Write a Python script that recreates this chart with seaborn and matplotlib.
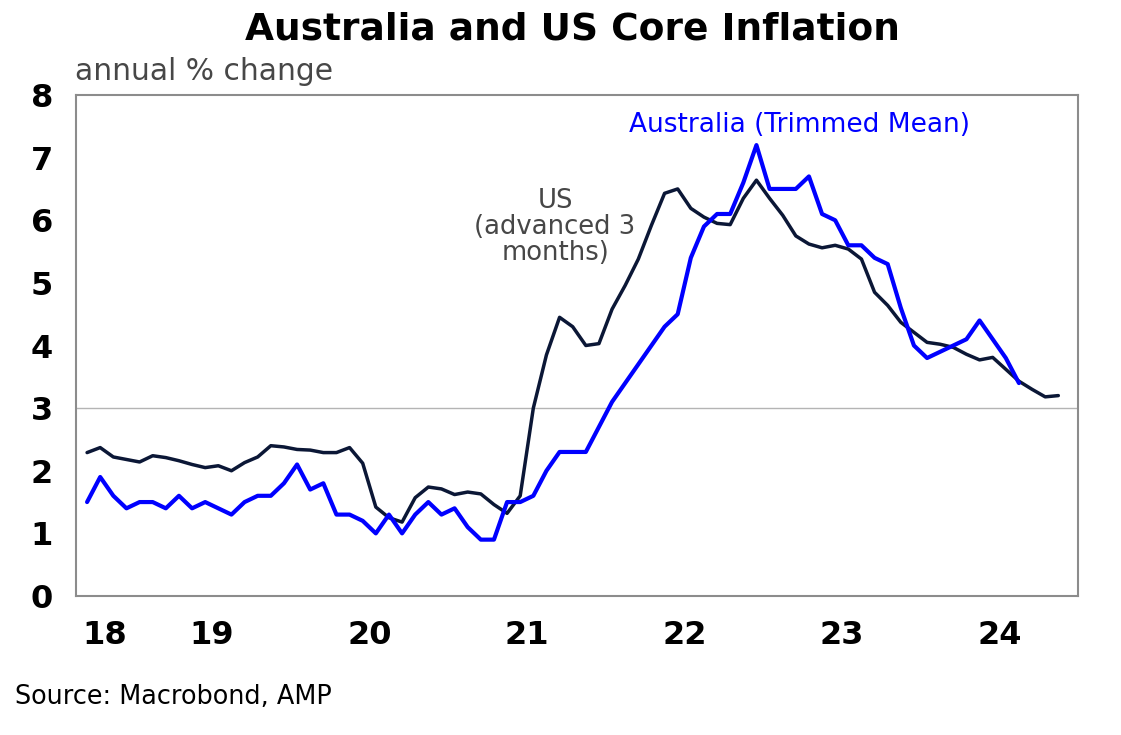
import numpy as np
import pandas as pd
import matplotlib
matplotlib.use("Agg")
import matplotlib.pyplot as plt
import seaborn as sns

# ======================================================
# DATA  (monthly, first observation Sep 2018)
# ======================================================

START_MONTH = "2018-09-01"

us_core = [
    2.29, 2.37, 2.22, 2.18, 2.14, 2.24, 2.21, 2.16, 2.10, 2.05, 2.08, 2.00,
    2.13, 2.22, 2.40, 2.38, 2.34, 2.33, 2.29, 2.29, 2.37,
    2.12, 1.42, 1.25, 1.18, 1.57, 1.74, 1.71, 1.62, 1.66, 1.63, 1.46, 1.32,
    1.60, 3.00, 3.85, 4.45, 4.30, 4.00, 4.03, 4.58, 4.96, 5.38, 5.92, 6.43, 6.50,
    6.19, 6.05, 5.95, 5.93, 6.35, 6.64, 6.35, 6.08, 5.75, 5.62, 5.56, 5.60, 5.54, 5.38,
    4.85, 4.64, 4.37, 4.21, 4.05, 4.02, 3.97, 3.86, 3.77, 3.81, 3.62, 3.43, 3.30, 3.18, 3.20,
]

aus_trimmed = [
    1.5, 1.9, 1.6, 1.4, 1.5, 1.5, 1.4, 1.6, 1.4, 1.5, 1.4, 1.3,
    1.5, 1.6, 1.6, 1.8, 2.1, 1.7, 1.8, 1.3, 1.3,
    1.2, 1.0, 1.3, 1.0, 1.3, 1.5, 1.3, 1.4, 1.1, 0.9, 0.9, 1.5, 1.5, 1.6,
    2.0, 2.3, 2.3, 2.3, 2.7, 3.1, 3.4, 3.7, 4.0, 4.3, 4.5, 5.4, 5.9, 6.1, 6.1, 6.6, 7.2,
    6.5, 6.5, 6.5, 6.7, 6.1, 6.0, 5.6, 5.6, 5.4, 5.3, 4.6, 4.0, 3.8, 3.9, 4.0, 4.1, 4.4, 4.1, 3.8, 3.4,
]

year_labels = ["18", "19", "20", "21", "22", "23", "24"]
year_starts = [2019, 2020, 2021, 2022, 2023, 2024, 2025]


def to_decimal_year(n):
    dates = pd.date_range(START_MONTH, periods=n, freq="MS")
    return dates.year + (dates.month - 1) / 12 + 0.5 / 12


us_df = pd.DataFrame({"year": to_decimal_year(len(us_core)), "value": us_core})
aus_df = pd.DataFrame({"year": to_decimal_year(len(aus_trimmed)), "value": aus_trimmed})

# ======================================================
# STYLE
# ======================================================

sns.set_theme(style="white")
plt.rcParams["font.family"] = ["DejaVu Sans"]

US_COLOR = "#0b1736"
AUS_COLOR = "#0000ff"
GREY = "#8c8c8c"
TEXT_GREY = "#474747"

X_MIN = 2018.638
X_MAX = 2025.0

fig = plt.figure(figsize=(11.21, 7.35), dpi=100)
ax = fig.add_axes([76 / 1121, 1 - 596 / 735, (1078 - 76) / 1121, (596 - 95) / 735])

ax.axhline(3, color="#b4b4b4", lw=1.0, zorder=1)

sns.lineplot(data=us_df, x="year", y="value", color=US_COLOR, lw=2.5, ax=ax, zorder=3)
sns.lineplot(data=aus_df, x="year", y="value", color=AUS_COLOR, lw=3.0, ax=ax, zorder=4)

ax.set_xlim(X_MIN, X_MAX)
ax.set_ylim(0, 8)
ax.set_xlabel("")
ax.set_ylabel("")

# y axis
ax.set_yticks(range(0, 9))
ax.tick_params(axis="y", direction="out", length=7, width=1.3, color=GREY,
               labelsize=23, pad=9.5)
for lab in ax.get_yticklabels():
    lab.set_fontweight("bold")
    lab.set_color("black")

# x axis: year boundaries as ticks, labels in the middle of each year
ax.set_xticks(year_starts)
ax.set_xticklabels([])
ax.tick_params(axis="x", which="major", direction="in", length=5, width=1.3, color=GREY)

label_pos = []
left = X_MIN
for right in year_starts:
    label_pos.append((left + right) / 2)
    left = right
ax.set_xticks(label_pos, minor=True)
ax.set_xticklabels(year_labels, minor=True)
ax.tick_params(axis="x", which="minor", length=0, labelsize=23, pad=17)
for lab in ax.get_xticklabels(minor=True):
    lab.set_fontweight("bold")
    lab.set_color("black")

for side in ["left", "right", "top", "bottom"]:
    ax.spines[side].set_visible(True)
    ax.spines[side].set_color(GREY)
    ax.spines[side].set_linewidth(1.5)

# ======================================================
# TEXT
# ======================================================

fig.text(572 / 1121, 1 - 30 / 735, "Australia and US Core Inflation",
         ha="center", va="center", fontsize=27, fontweight="bold", color="black")

fig.text(75 / 1121, 1 - 71 / 735, "annual % change",
         ha="left", va="center", fontsize=21.4, color=TEXT_GREY)

fig.text(15 / 1121, 1 - 697 / 735, "Source: Macrobond, AMP",
         ha="left", va="center", fontsize=18.4, color="black")

ax.text(2023.23, 7.52, "Australia (Trimmed Mean)", ha="center", va="center",
        fontsize=19, color=AUS_COLOR)

ax.text(2021.68, 5.89, "US\n(advanced 3\nmonths)", ha="center", va="center",
        fontsize=18.6, color=TEXT_GREY, linespacing=1.0)

plt.savefig("out.png", dpi=100)
plt.close()
